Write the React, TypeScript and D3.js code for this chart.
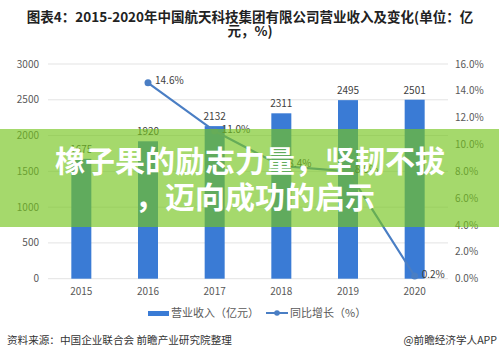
import React from "react";
import * as d3 from "d3";

const years = ["2015", "2016", "2017", "2018", "2019", "2020"];
const revenue = [1675, 1920, 2132, 2311, 2495, 2501];
const growth = [null, 14.6, 11.0, 8.4, 8.0, 0.2];
const leftTicks = [0, 500, 1000, 1500, 2000, 2500, 3000];
const rightTicks = [0, 2, 4, 6, 8, 10, 12, 14, 16];

const W = 499;
const H = 357;
const FONT = "'Noto Sans CJK SC', 'Noto Sans', sans-serif";

export default function App() {
  const x = d3.scaleBand().domain(years).range([48, 448]).paddingInner(0.7).paddingOuter(0.35);
  const yL = d3.scaleLinear().domain([0, 3000]).range([278.7, 64]);
  const yR = d3.scaleLinear().domain([0, 16]).range([278.7, 64]);
  const cx = (y: string) => (x(y) as number) + x.bandwidth() / 2;
  const linePts = years
    .map((y, i) => ({ y, v: growth[i] }))
    .filter((d) => d.v !== null) as { y: string; v: number }[];
  const line = d3
    .line<{ y: string; v: number }>()
    .x((d) => cx(d.y))
    .y((d) => yR(d.v));

  const barColor = "#3a7bd5";
  const lineColor = "#4a7ec4";
  const textColor = "#595959";

  return (
    <svg width={W} height={H} style={{ position: "absolute", left: 0, top: 0, background: "#fff" }} fontFamily={FONT}>
      <rect width={W} height={H} fill="#fff" />
      <text x={250} y={22} textAnchor="middle" fontSize={13.5} fontWeight="bold" fill="#222">
        图表4：2015-2020年中国航天科技集团有限公司营业收入及变化(单位：亿
      </text>
      <text x={250} y={36} textAnchor="middle" fontSize={13.5} fontWeight="bold" fill="#222">
        元，%)
      </text>

      {leftTicks.map((t) => (
        <g key={"g" + t}>
          <line x1={48} x2={448} y1={yL(t)} y2={yL(t)} stroke="#e3e3e3" strokeWidth={1} />
          <text x={39} y={yL(t)} dy="0.35em" textAnchor="end" fontSize={10} fill={textColor}>
            {t}
          </text>
        </g>
      ))}
      {rightTicks.map((t) => (
        <text key={"r" + t} x={455} y={yR(t)} dy="0.35em" textAnchor="start" fontSize={10} fill={textColor}>
          {t.toFixed(1) + "%"}
        </text>
      ))}

      {years.map((y, i) => (
        <g key={"b" + y}>
          <rect x={x(y)} y={yL(revenue[i])} width={x.bandwidth()} height={yL(0) - yL(revenue[i])} fill={barColor} />
          <text x={cx(y)} y={yL(revenue[i]) - 6} textAnchor="middle" fontSize={10} fill="#404040">
            {revenue[i]}
          </text>
          <text x={cx(y)} y={291} dy="0.35em" textAnchor="middle" fontSize={10} fill={textColor}>
            {y}
          </text>
        </g>
      ))}

      <path d={line(linePts) || ""} fill="none" stroke={lineColor} strokeWidth={2.2} />
      {linePts.map((d) => (
        <g key={"p" + d.y}>
          <circle cx={cx(d.y)} cy={yR(d.v)} r={3.5} fill={lineColor} />
          <text x={cx(d.y) + 7} y={yR(d.v) - 2} dy="0.35em" fontSize={10} fill="#404040">
            {d.v.toFixed(1) + "%"}
          </text>
        </g>
      ))}

      {/* legend */}
      <rect x={148} y={311} width={21} height={5} fill={barColor} />
      <text x={171} y={313} dy="0.35em" fontSize={11} fill={textColor}>
        营业收入（亿元）
      </text>
      <line x1={266} x2={288} y1={313} y2={313} stroke={lineColor} strokeWidth={2} />
      <circle cx={277} cy={313} r={2.8} fill={lineColor} />
      <text x={290} y={313} dy="0.35em" fontSize={11} fill={textColor}>
        同比增长（%）
      </text>

      {/* footer */}
      <text x={7} y={340} dy="0.35em" fontSize={10.6} fill="#333">
        资料来源：中国企业联合会 前瞻产业研究院整理
      </text>
      <text x={497} y={340} dy="0.35em" textAnchor="end" fontSize={10.6} fill="#333">
        @前瞻经济学人APP
      </text>

      {/* overlay banner */}
      <rect x={0} y={129} width={W} height={98} fill="rgb(116,196,29)" fillOpacity={0.65} />
      <text x={250} y={172} textAnchor="middle" fontSize={30} fontWeight="bold" fill="#fff">
        橡子果的励志力量，坚韧不拔
      </text>
      <text x={255} y={208} textAnchor="middle" fontSize={30} fontWeight="bold" fill="#fff">
        ，迈向成功的启示
      </text>
    </svg>
  );
}
